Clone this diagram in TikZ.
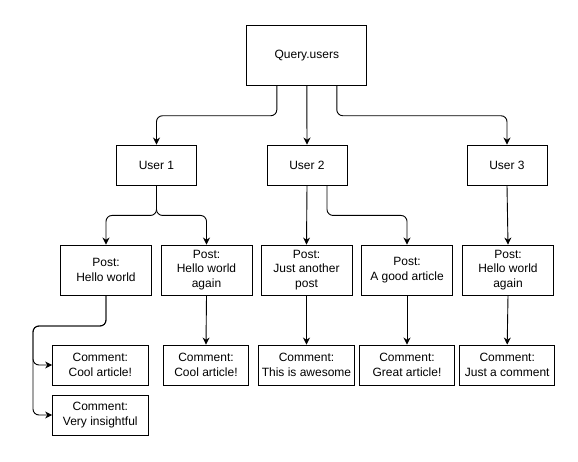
\documentclass[tikz,border=0pt]{standalone}
\usepackage{fontspec}
\setmainfont{Liberation Sans}
\usetikzlibrary{arrows.meta,calc}
\begin{document}
\begin{tikzpicture}[x=1pt,y=-1pt,
  box/.style={draw=black,line width=0.9pt,fill=white,align=center,inner sep=1pt,
    font=\fontsize{12}{14.5}\selectfont},
  arr/.style={draw=black,line width=0.9pt,rounded corners=6pt,-{Stealth[length=7pt,width=7pt,inset=2.2pt]}}]
\useasboundingbox (0,0) rectangle (578,462);
\fill[white] (0,0) rectangle (578,462);
\node[box,minimum width=120pt,minimum height=60pt] (q) at (306.8,55.3) {Query.users};
\node[box,minimum width=80pt,minimum height=40pt] (u1) at (156.5,165) {User 1};
\node[box,minimum width=80pt,minimum height=40pt] (u2) at (307,165) {User 2};
\node[box,minimum width=80pt,minimum height=40pt] (u3) at (507,165) {User 3};
\node[box,minimum width=91pt,minimum height=50pt] (p1) at (106,270) {Post:\\Hello world};
\node[box,minimum width=91pt,minimum height=50pt] (p2) at (206.5,270) {Post:\\Hello world\\again};
\node[box,minimum width=91pt,minimum height=50pt] (p3) at (306.5,270) {Post:\\Just another\\post};
\node[box,minimum width=91pt,minimum height=50pt] (p4) at (407,270) {Post:\\A good article};
\node[box,minimum width=91pt,minimum height=50pt] (p5) at (508,270) {Post:\\Hello world\\again};
\node[box,minimum width=95.4pt,minimum height=40pt] (c1) at (100.3,365) {Comment:\\Cool article!};
\node[box,minimum width=85.5pt,minimum height=40pt] (c2) at (206,365) {Comment:\\Cool article!};
\node[box,minimum width=96pt,minimum height=40pt] (c3) at (306.5,365) {Comment:\\This is awesome};
\node[box,minimum width=95.4pt,minimum height=40pt] (c4) at (407,365) {Comment:\\Great article!};
\node[box,minimum width=95.2pt,minimum height=40pt] (c5) at (507.2,365) {Comment:\\Just a comment};
\node[box,minimum width=95.4pt,minimum height=40pt] (c6) at (100.3,415) {Comment:\\Very insightful};
\coordinate (j) at (33,326);
\draw[arr] ([xshift=-30pt]q.south) -- ++(0,30) -| (u1.north);
\draw[arr] (q.south) -- (u2.north);
\draw[arr] ([xshift=30pt]q.south) -- ++(0,30) -| (u3.north);
\draw[arr] (u1.south) -- ++(0,30) -| (p1.north);
\draw[arr] (u1.south) -- ++(0,30) -| (p2.north);
\draw[arr] (u2.south) -- (p3.north);
\draw[arr] ([xshift=20pt]u2.south) -- ++(0,30) -| (p4.north);
\draw[arr] (u3.south) -- (p5.north);
\draw[arr] (p2.south) -- (c2.north);
\draw[arr] (p3.south) -- (c3.north);
\draw[arr] (p4.south) -- (c4.north);
\draw[arr] (p5.south) -- (c5.north);
\draw[arr] (p1.south) |- (j) |- (c1.west);
\draw[arr] (p1.south) |- (j) |- (c6.west);
\end{tikzpicture}
\end{document}
